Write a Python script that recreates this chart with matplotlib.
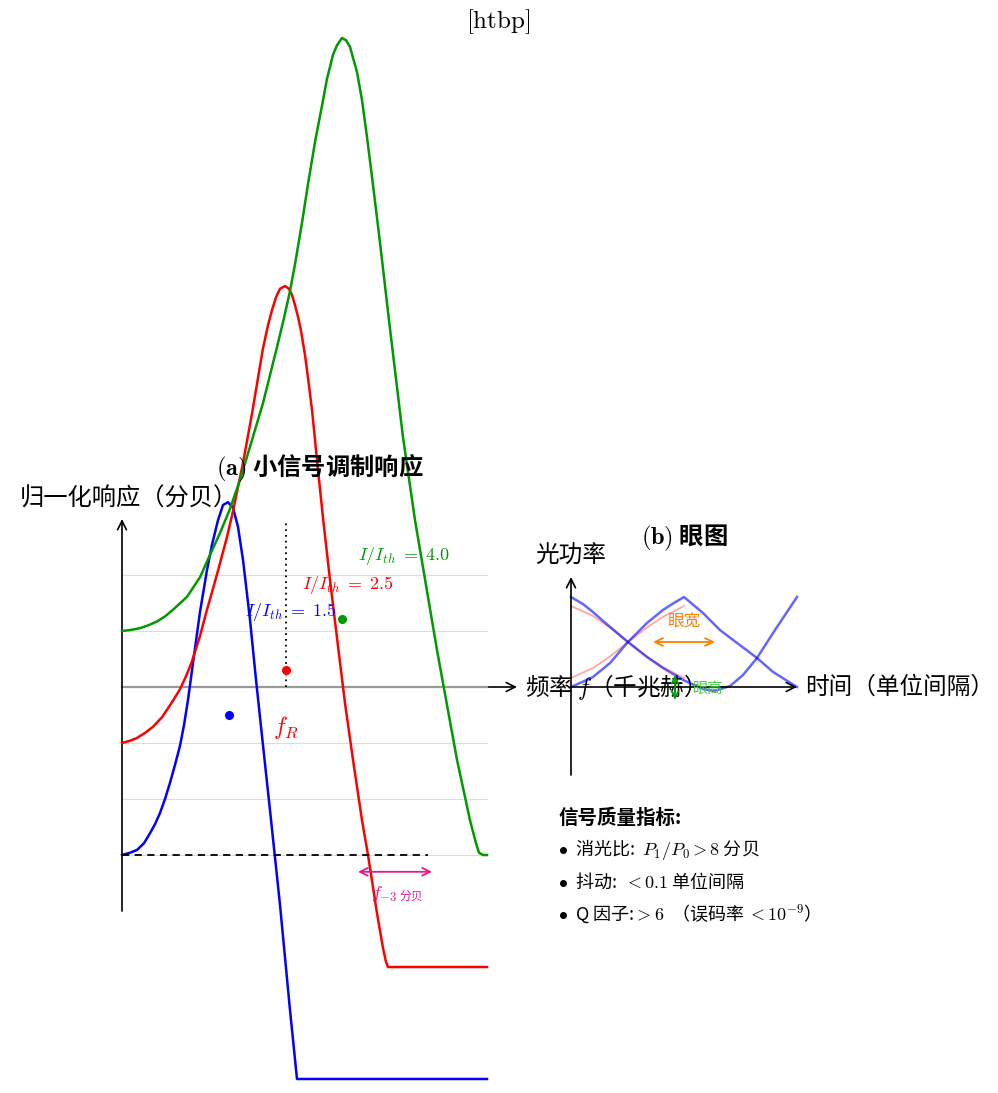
import matplotlib
matplotlib.use("Agg")
import matplotlib.pyplot as plt

plt.rcParams['font.family'] = ['Noto Sans CJK SC', 'DejaVu Sans']
plt.rcParams['mathtext.fontset'] = 'cm'
plt.rcParams['axes.unicode_minus'] = True

# ---------------- Panel (a): small-signal modulation response ----------------
freq_15 = [0, 0.4, 0.75, 1.1, 1.4, 1.65, 1.9, 2.15, 2.4, 2.65, 2.9, 3.1, 3.3, 3.55, 3.9,
           4.25, 4.5, 4.8, 5.05, 5.3, 5.55, 5.8, 6.05, 6.4, 6.7, 7.05, 7.4, 7.9, 8.4, 8.75,
           18.25]
resp_15 = [-3.0, -2.96, -2.91, -2.79, -2.61, -2.45, -2.25, -2.0, -1.71, -1.39, -1.05, -0.68,
           -0.23, 0.43, 1.34, 2.09, 2.54, 2.98, 3.25, 3.30, 3.20, 2.86, 2.27, 1.20, 0.13,
           -1.04, -2.20, -3.89, -5.77, -7.0, -7.0]

freq_25 = [0, 0.4, 0.75, 1.15, 1.55, 2.0, 2.45, 2.9, 3.25, 3.5, 3.9, 4.25, 4.6, 4.9, 5.25,
           5.55, 6.05, 6.5, 6.8, 7.05, 7.3, 7.5, 7.7, 7.9, 8.15, 8.35, 8.5, 8.65, 8.8, 8.95,
           9.15, 9.3, 9.5, 9.8, 10.05, 10.4, 10.8, 11.15, 11.55, 12.0, 12.3, 12.75, 13.05,
           13.2, 13.3, 18.25]
resp_25 = [-1.0, -0.96, -0.91, -0.82, -0.71, -0.54, -0.30, -0.04, 0.23, 0.46, 0.91, 1.38,
           1.82, 2.21, 2.68, 3.14, 4.0, 4.88, 5.52, 6.05, 6.46, 6.73, 6.96, 7.11, 7.16, 7.11,
           7.0, 6.82, 6.61, 6.36, 5.93, 5.52, 4.95, 3.88, 3.02, 1.91, 0.73, -0.29, -1.30,
           -2.38, -3.0, -4.04, -4.66, -4.91, -5.0, -5.0]

freq_40 = [0, 0.45, 0.9, 1.3, 1.75, 2.15, 2.55, 3.25, 3.9, 4.4, 4.9, 5.4, 5.9, 6.4, 7.05,
           7.75, 8.1, 8.4, 8.65, 9.0, 9.3, 9.65, 10.0, 10.25, 10.55, 10.75, 11.0, 11.2, 11.4,
           11.75, 12.0, 12.25, 12.5, 12.75, 13.0, 13.3, 13.55, 14.05, 14.65, 15.75, 16.75,
           17.4, 17.7, 17.85, 18.05, 18.25]
resp_40 = [1.0, 1.02, 1.05, 1.10, 1.17, 1.26, 1.38, 1.61, 1.96, 2.36, 2.75, 3.18, 3.70, 4.29,
           5.07, 6.07, 6.59, 7.07, 7.55, 8.29, 8.98, 9.73, 10.38, 10.86, 11.29, 11.46, 11.59,
           11.55, 11.43, 10.98, 10.48, 9.82, 9.11, 8.38, 7.63, 6.70, 5.95, 4.46, 2.98, 0.66,
           -1.30, -2.38, -2.79, -2.96, -3.0, -3.0]

grid_levels = [-3, -2, -1, 0, 1, 2]
f_axis_end = 18.25
peak_f = [5.35, 8.2, 11.0]
peak_dot_y = [-0.5, 0.30, 1.21]
fR = 8.2
f3db_span = [11.8, 15.5]
labels_a = [r"$I/I_{th}\;=\;1.5$", r"$I/I_{th}\;=\;2.5$", r"$I/I_{th}\;=\;4.0$"]
colors_a = ['#0000ff', '#ff0000', '#009900']

# ---------------- Panel (b): eye diagram ----------------
eyeA_t = [0, 0.054, 0.097, 0.173, 0.252, 0.336, 0.407, 0.496, 0.584, 0.633, 0.704, 0.761,
          0.823, 0.894, 1.0]
eyeA_y = [1.0, 0.92, 0.833, 0.667, 0.5, 0.333, 0.211, 0.078, -0.022, -0.044, 0.011, 0.133,
          0.322, 0.6, 1.0]
eyeB_t = [0, 0.054, 0.097, 0.173, 0.252, 0.336, 0.407, 0.453, 0.5, 0.584, 0.659, 0.735,
          0.823, 0.894, 1.0]
eyeB_y = [0, 0.06, 0.111, 0.267, 0.5, 0.711, 0.856, 0.93, 1.0, 0.822, 0.633, 0.489, 0.322,
          0.167, 0]
eyeC_t = [0, 0.097, 0.173, 0.252, 0.336, 0.407, 0.5]
eyeC_y = [0.9, 0.79, 0.66, 0.5, 0.34, 0.22, 0.1]
eyeD_y = [0.1, 0.21, 0.34, 0.5, 0.66, 0.78, 0.9]

metrics = [r"$\bullet$  消光比:  $P_1/P_0 > 8$ 分贝",
           r"$\bullet$  抖动:  $< 0.1$ 单位间隔",
           r"$\bullet$  Q 因子:$> 6$  （误码率 $< 10^{-9}$）"]

W, H = 998, 1093
fig = plt.figure(figsize=(W / 100, H / 100), dpi=100)

# panel (a) axes: 20 px per GHz, 56 px per dB, origin at pixel (122, 687)
ax = fig.add_axes([0, 0, 1, 1])
ax.set_xlim(-122 / 20, (W - 122) / 20)
ax.set_ylim((687 - H) / 56, 687 / 56)
ax.axis('off')

for g in grid_levels:
    if g != 0:
        ax.plot([0, f_axis_end], [g, g], color='#dddddd', lw=0.8, zorder=1)
ax.annotate('', xy=(19.75, 0), xytext=(0, 0),
            arrowprops=dict(arrowstyle='->', color='black', lw=1.2, shrinkA=0, shrinkB=0,
                            mutation_scale=16), zorder=2)
ax.plot([0, f_axis_end], [0, 0], color='#999999', lw=1.6, zorder=2)
ax.annotate('', xy=(0, 3.0), xytext=(0, -4.0),
            arrowprops=dict(arrowstyle='->', color='black', lw=1.2, shrinkA=0, shrinkB=0,
                            mutation_scale=16), zorder=2)

for fx, ry, c in [(freq_15, resp_15, colors_a[0]), (freq_25, resp_25, colors_a[1]),
                  (freq_40, resp_40, colors_a[2])]:
    ax.plot(fx, ry, color=c, lw=1.8, zorder=3, solid_joinstyle='round')

ax.plot([0, 15.3], [-3, -3], color='black', lw=1.3, ls=(0, (4, 3)), zorder=3)
ax.plot([fR, fR], [0, 2.95], color='black', lw=1.3, ls=(0, (1, 2.2)), zorder=3)

for fx, fy, c in zip(peak_f, peak_dot_y, colors_a):
    ax.plot(fx, fy, 'o', color=c, ms=5.5, zorder=4)

lab_pos = [(8.45, 1.34), (11.3, 1.82), (14.1, 2.34)]
for (lx, ly), t, c in zip(lab_pos, labels_a, colors_a):
    ax.text(lx, ly, t, color=c, fontsize=13, ha='center', va='center', zorder=5)

ax.text(fR, -0.72, "$f_R$", color='#ff0000', fontsize=17, ha='center', va='center')

ax.annotate('', xy=(f3db_span[1], -3.30), xytext=(f3db_span[0], -3.30),
            arrowprops=dict(arrowstyle='<->', color='#e6188c', lw=1.3, shrinkA=0, shrinkB=0,
                            mutation_scale=14))
ax.text(13.75, -3.70, "$f_{-3}$", color='#e6188c', fontsize=13, ha='right', va='center')
ax.text(13.85, -3.74, "分贝", color='#e6188c', fontsize=8.5, ha='left', va='center')

ax.text(9.9, 3.91, r"$\mathbf{(a)}$ 小信号调制响应", fontsize=17.5, fontweight='bold',
        ha='center', va='center')
ax.text(0.35, 3.36, "归一化响应（分贝）", fontsize=17.5, ha='center', va='center')
ax.text(20.15, 0, "频率 $f$（千兆赫）", fontsize=17, ha='left', va='center')

# panel (b) axes: 226 px per UI, 90 px per unit power, origin at pixel (571, 687)
bx = fig.add_axes([0, 0, 1, 1])
bx.set_xlim(-571 / 226, (W - 571) / 226)
bx.set_ylim((687 - H) / 90, 687 / 90)
bx.axis('off')
bx.patch.set_alpha(0)

bx.annotate('', xy=(1.0, 0), xytext=(0, 0),
            arrowprops=dict(arrowstyle='->', color='black', lw=1.2, shrinkA=0, shrinkB=0,
                            mutation_scale=16))
bx.annotate('', xy=(0, 1.222), xytext=(0, -0.978),
            arrowprops=dict(arrowstyle='->', color='black', lw=1.2, shrinkA=0, shrinkB=0,
                            mutation_scale=16))

bx.plot(eyeC_t, eyeC_y, color='#ff0000', alpha=0.35, lw=1.3)
bx.plot(eyeC_t, eyeD_y, color='#ff0000', alpha=0.35, lw=1.3)
bx.plot(eyeA_t, eyeA_y, color='#0000ff', alpha=0.6, lw=1.8, solid_joinstyle='round')
bx.plot(eyeB_t, eyeB_y, color='#0000ff', alpha=0.6, lw=1.8, solid_joinstyle='round')

bx.annotate('', xy=(0.637, 0.5), xytext=(0.363, 0.5),
            arrowprops=dict(arrowstyle='<->', color='#ff8000', lw=1.3, shrinkA=0, shrinkB=0,
                            mutation_scale=14))
bx.text(0.5, 0.722, "眼宽", color='#ff8000', fontsize=12, ha='center', va='center')
bx.annotate('', xy=(0.46, -0.144), xytext=(0.46, 0.133),
            arrowprops=dict(arrowstyle='<->', color='#00a000', lw=1.3, shrinkA=0, shrinkB=0,
                            mutation_scale=12))
bx.text(0.606, -0.011, "眼高", color='#44cc44', fontsize=11, ha='center', va='center')

bx.text(1.035, 0, "时间（单位间隔）", fontsize=17, ha='left', va='center')
bx.text(0, 1.456, "光功率", fontsize=17, ha='center', va='center')
bx.text(0.504, 1.656, r"$\mathbf{(b)}$ 眼图", fontsize=17.5, fontweight='bold',
        ha='center', va='center')

bx.text(-0.0575, -1.456, "信号质量指标:", fontsize=14, fontweight='bold', ha='left',
        va='center')
for yy, m in zip([-1.811, -2.167, -2.522], metrics):
    bx.text(-0.0575, yy, m, fontsize=13, ha='left', va='center')

fig.text(498 / W, 1 - 22 / H, r"$\mathrm{[htbp]}$", fontsize=18, ha='center', va='center')

fig.savefig("out.png", dpi=100)
